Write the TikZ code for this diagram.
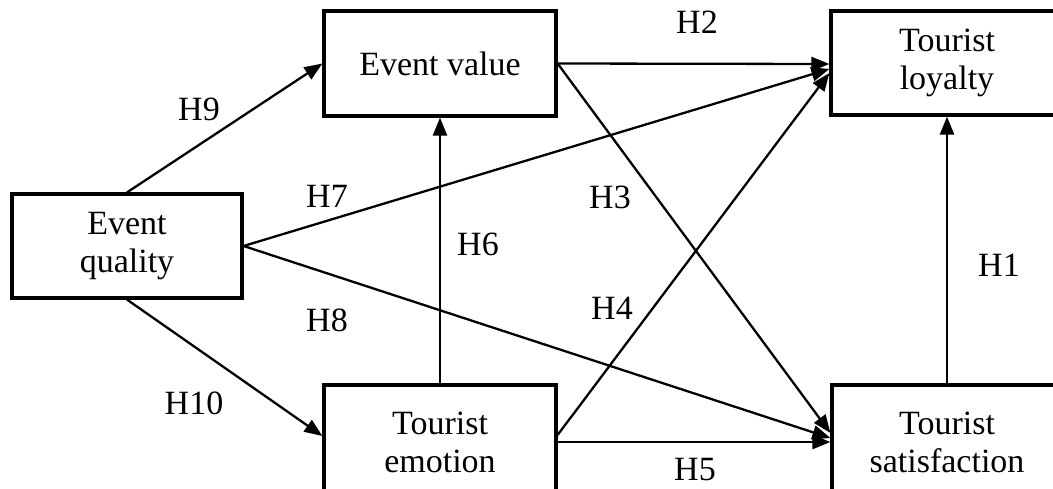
\documentclass[tikz,border=0pt]{standalone}
\usepackage{fontspec}
\setmainfont{Liberation Serif}
\usetikzlibrary{arrows.meta,calc}
\begin{document}
\begin{tikzpicture}[x=1pt,y=-1pt,
  box/.style={draw, line width=3.2pt, align=center, inner sep=0pt,
    font=\fontsize{34}{38}\selectfont},
  link/.style={line width=2.3pt, -{Triangle[length=18pt,width=14pt]}},
  hyp/.style={font=\fontsize{34}{38}\selectfont, inner sep=0pt}]
\useasboundingbox (0,0) rectangle (1053,488);
\clip (0,0) rectangle (1053,488);

% constructs
\node[box, minimum width=230, minimum height=104] (quality) at (127,246) {Event\\quality};
\node[box, minimum width=232, minimum height=105] (value) at (440,63.5) {Event value};
\node[box, minimum width=232, minimum height=104] (loyalty) at (947,63) {Tourist\\loyalty};
\node[box, minimum width=232, minimum height=114] (emotion) at (440,442) {Tourist\\emotion};
\node[box, minimum width=230, minimum height=114] (satisf) at (947,442) {Tourist\\satisfaction};

% hypothesised paths
\draw[link] (quality.north) -- (value.west);
\draw[link] (quality.south) -- ($(emotion.west)+(0,-6)$);
\draw[link] (quality.east) -- ($(loyalty.west)+(0,6)$);
\draw[link] (quality.east) -- ($(satisf.west)+(0,-4)$);
\draw[link] (value.east) -- ($(loyalty.west)+(0,1)$);
\draw[link] (value.east) -- ($(satisf.west)+(0,-9)$);
\draw[link] ($(emotion.east)+(0,-7)$) -- ($(loyalty.west)+(0,10)$);
\draw[link] (emotion.east) -- (satisf.west);
\draw[link] (emotion.north) -- (value.south);
\draw[link] (satisf.north) -- (loyalty.south);

% labels
\node[hyp] (h9) at (199,109) {H9};
\node[hyp] (h2) at (697,22) {H2};
\node[hyp] (h7) at (327,196) {H7};
\node[hyp] (h3) at (610,197) {H3};
\node[hyp] (h6) at (478,244) {H6};
\node[hyp] (h4) at (612,308) {H4};
\node[hyp] (h8) at (327,320) {H8};
\node[hyp] (h10) at (194,403) {H10};
\node[hyp] (h5) at (695,470) {H5};
\node[hyp] (h1) at (999,265) {H1};
\end{tikzpicture}
\end{document}
